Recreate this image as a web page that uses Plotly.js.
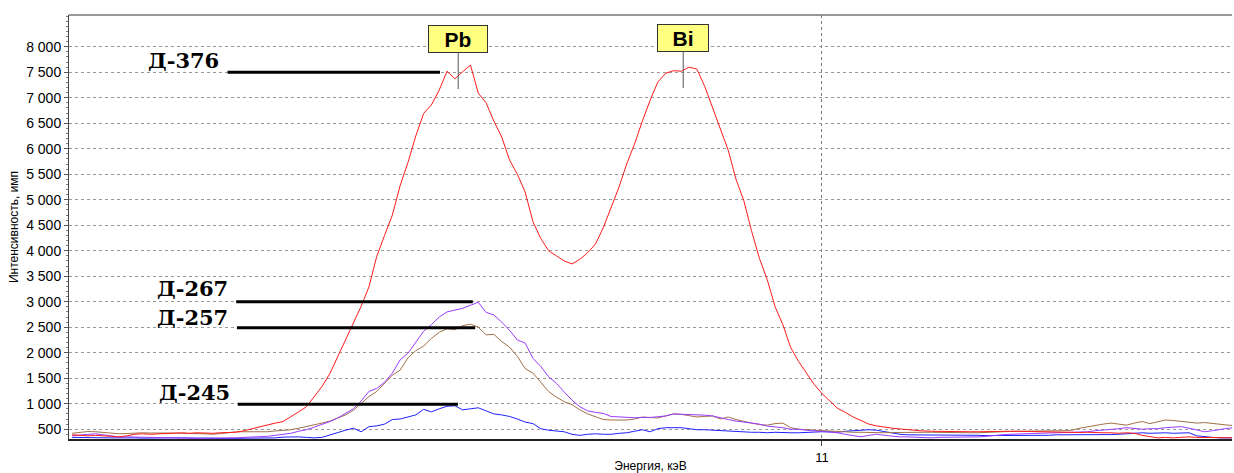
<!DOCTYPE html>
<html>
<head>
<meta charset="utf-8">
<script src="https://cdn.plot.ly/plotly-3.0.1.min.js"></script>
<style>html,body{margin:0;padding:0;background:#fff;}#chart{width:1234px;height:473px;}</style>
</head>
<body>
<div id="chart"></div>
<script>
// Channel energies, keV
const energy = [
10.04,10.05,10.06,10.07,10.08,10.09,10.10,10.11,10.12,10.13,
10.14,10.15,10.16,10.17,10.18,10.19,10.20,10.21,10.22,10.23,
10.24,10.25,10.26,10.27,10.28,10.29,10.30,10.31,10.32,10.33,
10.34,10.35,10.36,10.37,10.38,10.39,10.40,10.41,10.42,10.43,
10.44,10.45,10.46,10.47,10.48,10.49,10.50,10.51,10.52,10.53,
10.54,10.55,10.56,10.57,10.58,10.59,10.60,10.61,10.62,10.63,
10.64,10.65,10.66,10.67,10.68,10.69,10.70,10.71,10.72,10.73,
10.74,10.75,10.76,10.77,10.78,10.79,10.80,10.81,10.82,10.83,
10.84,10.85,10.86,10.87,10.88,10.89,10.90,10.91,10.92,10.93,
10.94,10.95,10.96,10.97,10.98,10.99,11.00,11.01,11.02,11.03,
11.04,11.05,11.06,11.07,11.08,11.09,11.10,11.11,11.12,11.13,
11.14,11.15,11.16,11.17,11.18,11.19,11.20,11.21,11.22,11.23,
11.24,11.25,11.26,11.27,11.28,11.29,11.30,11.31,11.32,11.33,
11.34,11.35,11.36,11.37,11.38,11.39,11.40,11.41,11.42,11.43,
11.44,11.45,11.46,11.47,11.48,11.49,11.50,11.51,11.52,11.53];

// Д-376 (red)
const d376 = [
390,380,370,380,370,355,350,370,400,410,
400,410,410,420,430,420,430,420,420,430,
440,440,470,510,540,590,620,650,740,840,
940,1130,1340,1590,1920,2250,2560,2910,3290,3890,
4300,4700,5280,5730,6250,6690,6860,7150,7520,7370,
7510,7640,7090,6900,6540,6230,5780,5500,5150,4570,
4240,4000,3900,3800,3740,3830,3960,4130,4450,4850,
5240,5700,6090,6540,6950,7310,7480,7530,7520,7600,
7560,7220,6790,6390,5970,5400,4980,4380,3850,3430,
2900,2550,2100,1830,1600,1380,1200,1050,910,830,
740,670,600,565,535,520,505,490,470,465,
460,455,455,450,450,450,450,455,460,460,
460,460,455,450,445,440,440,440,440,435,
440,430,430,430,420,430,420,380,350,330,
340,330,340,350,340,340,330,340,330,330];

// Д-267 (purple)
const d267 = [
370,390,400,410,390,360,350,350,345,340,
335,330,325,320,320,320,320,325,325,330,
330,330,340,345,350,360,380,400,420,460,
490,540,590,650,720,810,900,1050,1240,1300,
1420,1600,1860,1990,2200,2420,2550,2700,2800,2830,
2870,2930,2990,2790,2740,2600,2440,2250,2190,1890,
1730,1530,1400,1230,1070,940,860,830,810,750,
740,730,725,730,730,745,760,800,795,780,
785,775,760,720,690,660,640,620,600,560,
550,530,500,500,480,470,450,440,430,400,
380,350,380,400,380,360,350,350,340,330,
330,340,340,350,350,345,350,360,380,390,
400,410,410,415,420,425,430,430,430,440,
450,470,480,490,510,530,520,500,510,510,
530,540,550,520,480,450,470,500,520,530];

// Д-257 (brown)
const d257 = [
420,440,455,450,440,420,410,415,425,430,
425,430,430,425,420,420,415,410,400,410,
430,450,450,440,440,450,465,475,490,520,
550,580,620,660,720,780,870,1000,1140,1240,
1400,1560,1660,1900,2040,2130,2280,2400,2470,2450,
2530,2560,2500,2350,2360,2220,2110,1930,1690,1600,
1420,1240,1130,1040,980,880,800,740,690,680,
680,680,700,740,730,720,760,800,790,760,
740,750,760,700,740,690,650,620,590,580,
610,620,530,500,490,480,470,470,460,450,
440,440,435,430,430,435,440,440,445,440,
440,435,430,430,430,430,430,440,450,450,
455,460,460,460,470,470,470,470,480,520,
550,580,600,620,600,580,620,650,610,640,
680,670,650,640,620,630,610,590,580,570];

// Д-245 (blue)
const d245 = [
340,335,335,340,335,330,330,335,330,325,
330,330,325,330,330,325,320,320,320,320,
320,320,320,320,320,320,330,345,350,350,
340,330,340,390,430,480,520,450,550,565,
600,690,700,740,780,890,840,900,950,960,
880,900,920,860,800,780,750,700,640,610,
510,480,470,450,400,380,400,410,400,400,
420,430,460,490,450,510,530,530,530,510,
490,490,480,470,460,450,440,440,440,430,
440,430,430,430,440,440,450,450,440,460,
470,480,490,480,450,420,400,390,390,390,
390,380,380,380,380,380,380,375,375,370,
370,370,370,375,380,380,390,390,385,385,
390,395,395,395,400,410,420,430,420,430,
430,420,430,430,370,350,340,330,330,330];

const sampleNames = ['Д-376','Д-267','Д-257','Д-245'];
const labelLevels = [7500, 3000, 2490, 990];
const lineStart = [10.239, 10.250, 10.251, 10.252];
const lineEnd = [10.511, 10.553, 10.556, 10.534];
const labelX = [10.2311, 10.2420, 10.2420, 10.2446];
const labelY = [7730, 3257, 2692, 1214];

const elements = ['Pb','Bi'];
const elementE = [10.5343, 10.8224];
const elementY = [7171, 7190];

const xTickVals = [11];
const xTickText = ['11'];
const yTickVals = [500,1000,1500,2000,2500,3000,3500,4000,4500,5000,5500,6000,6500,7000,7500,8000];

const traces = [
  {x: energy, y: d245, name: 'Д-245', line: {color: '#2020ff', width: 1}},
  {x: energy, y: d257, name: 'Д-257', line: {color: '#a0714a', width: 1}},
  {x: energy, y: d267, name: 'Д-267', line: {color: '#9a3cff', width: 1}},
  {x: energy, y: d376, name: 'Д-376', line: {color: '#ff1a1a', width: 1}}
].map(t => Object.assign({type: 'scatter', mode: 'lines', hoverinfo: 'skip'}, t));

const shapes = [
  {type: 'line', xref: 'paper', yref: 'paper', x0: 0, x1: 1, y0: 1, y1: 1,
   line: {color: '#777', width: 1.5}}
];
sampleNames.forEach((n, i) => {
  shapes.push({type: 'line', xref: 'x', yref: 'y', x0: lineStart[i], x1: lineEnd[i],
    y0: labelLevels[i], y1: labelLevels[i], line: {color: '#000', width: 3}});
});

const annotations = [];
sampleNames.forEach((n, i) => {
  annotations.push({x: labelX[i], y: labelY[i], xref: 'x', yref: 'y', text: '<b>' + n + '</b>',
    showarrow: false, xanchor: 'right', yanchor: 'middle',
    font: {family: 'DejaVu Serif', size: 21, color: '#000'}});
});
elements.forEach((el, i) => {
  annotations.push({x: elementE[i], y: elementY[i], xref: 'x', yref: 'y', text: '<b>' + el + '</b>',
    showarrow: true, arrowhead: 0, arrowwidth: 1, arrowcolor: '#555', ax: 0, ay: -50,
    bgcolor: '#ffff80', bordercolor: '#333', borderwidth: 1, borderpad: 1,
    width: i === 0 ? 56 : 48, height: 24,
    font: {family: 'Liberation Sans, Arial', size: 21, color: '#000'}});
});

const layout = {
  width: 1234, height: 473,
  margin: {l: 69, r: 2, t: 15, b: 34, pad: 0},
  paper_bgcolor: '#fff', plot_bgcolor: '#fff',
  showlegend: false,
  separators: '. ',
  font: {family: 'Liberation Sans, Arial', color: '#000'},
  xaxis: {
    range: [10.036, 11.525], tickmode: 'array', tickvals: xTickVals, ticktext: xTickText,
    showgrid: true, gridcolor: '#777', griddash: '3px,3px', gridwidth: 1,
    showline: true, linecolor: '#222', linewidth: 2, zeroline: false,
    ticks: 'outside', ticklen: 5, tickcolor: '#444',
    tickfont: {size: 13, color: '#000'},
    title: {text: 'Энергия, кэВ', font: {size: 12, color: '#000'}, standoff: 2}
  },
  yaxis: {
    range: [308, 8622], tickmode: 'array', tickvals: yTickVals,
    showgrid: true, gridcolor: '#999', griddash: '3px,3px', gridwidth: 1,
    showline: true, linecolor: '#444', linewidth: 1, zeroline: false,
    ticks: 'outside', ticklen: 4, tickcolor: '#555',
    separatethousands: true,
    minor: {dtick: 100, ticks: 'outside', ticklen: 2, tickcolor: '#777', showgrid: false},
    tickfont: {size: 14, color: '#000'},
    title: {text: 'Интенсивность, имп', font: {size: 12, color: '#000'}, standoff: 4}
  },
  shapes: shapes,
  annotations: annotations
};

Plotly.newPlot('chart', traces, layout, {staticPlot: true, displayModeBar: false});
</script>
</body>
</html>
